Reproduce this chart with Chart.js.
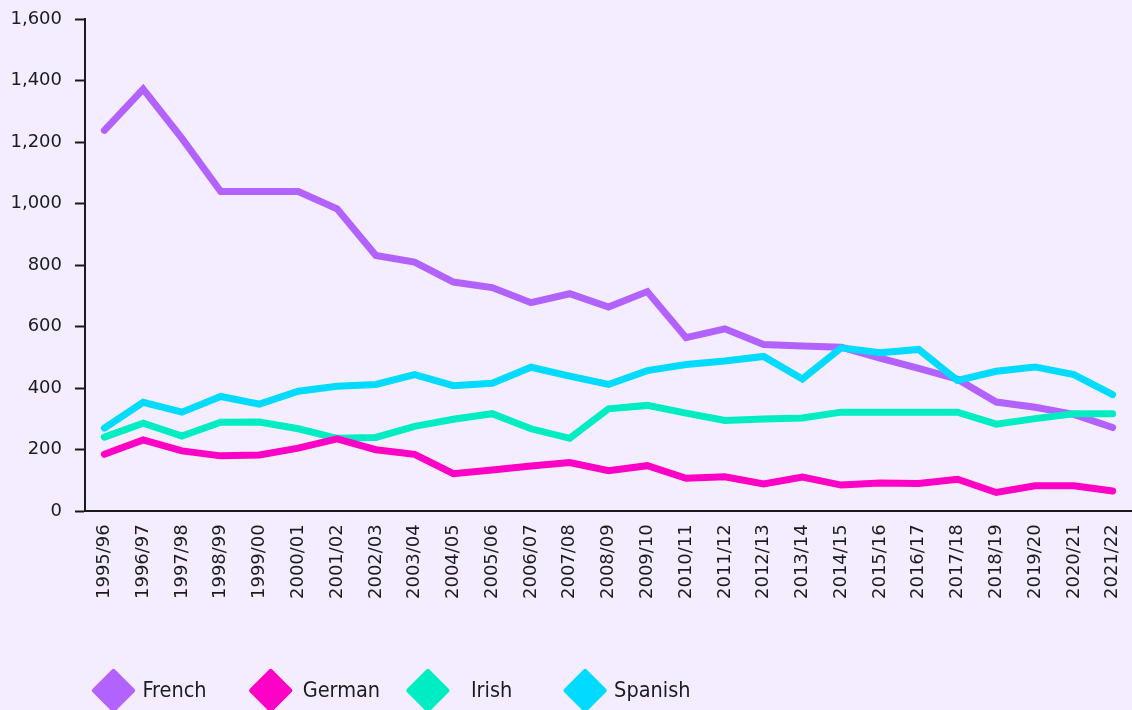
<!DOCTYPE html>
<html>
<head>
<meta charset="utf-8">
<script src="https://cdn.jsdelivr.net/npm/chart.js@4/dist/chart.umd.min.js"></script>
<style>
  html, body { margin: 0; padding: 0; background: #F3EDFF; }
  #wrap { width: 1132px; height: 710px; position: relative; }
</style>
</head>
<body>
<div id="wrap"><canvas id="chart"></canvas></div>
<script>
// Academic years on the x axis
const years = ['1995/96', '1996/97', '1997/98', '1998/99', '1999/00', '2000/01', '2001/02',
    '2002/03', '2003/04', '2004/05', '2005/06', '2006/07', '2007/08', '2008/09', '2009/10',
    '2010/11', '2011/12', '2012/13', '2013/14', '2014/15', '2015/16', '2016/17', '2017/18',
    '2018/19', '2019/20', '2020/21', '2021/22'];

// Values
const french = [1238, 1372, 1212, 1039, 1039, 1039, 983, 831, 810, 745, 727, 678, 707, 664, 714,
    564, 593, 542, 537, 533, 498, 464, 429, 355, 338, 315, 272];
const german = [185, 232, 196, 180, 183, 205, 235, 200, 185, 122, 134, 147, 158, 132, 148,
    107, 112, 89, 111, 85, 92, 90, 104, 61, 83, 83, 66];
const irish = [241, 286, 244, 289, 290, 268, 237, 240, 276, 299, 317, 268, 237, 333, 344,
    319, 295, 300, 303, 322, 322, 322, 322, 283, 301, 317, 317];
const spanish = [270, 354, 322, 373, 348, 390, 406, 412, 444, 408, 416, 468, 439, 412, 457,
    477, 488, 503, 430, 531, 515, 526, 425, 455, 469, 444, 379];

const yTicks = [0, 200, 400, 600, 800, 1000, 1200, 1400, 1600];

const seriesNames = ['French', 'German', 'Irish', 'Spanish'];
const seriesColors = ['#B262FF', '#FF00C6', '#00EDC3', '#00DBFF'];

const textColor = '#1c1c1c';

// paint the lavender background behind everything
const backgroundPlugin = {
    id: 'background',
    beforeDraw(chart) {
        const ctx = chart.ctx;
        ctx.save();
        ctx.fillStyle = '#F3EDFF';
        ctx.fillRect(0, 0, chart.width, chart.height);
        ctx.restore();
    }
};

// legend with rounded diamonds along the bottom
const legendTextGap = [29, 32, 43, 29];
const diamondLegend = {
    id: 'diamondLegend',
    afterDraw(chart) {
        const ctx = chart.ctx;
        ctx.save();
        chart.data.datasets.forEach((ds, i) => {
            const cx = 113.5 + i * 157.2;
            const cy = 690.5;
            const h = 19;
            ctx.beginPath();
            ctx.moveTo(cx, cy - h);
            ctx.lineTo(cx + h, cy);
            ctx.lineTo(cx, cy + h);
            ctx.lineTo(cx - h, cy);
            ctx.closePath();
            ctx.fillStyle = ds.borderColor;
            ctx.strokeStyle = ds.borderColor;
            ctx.lineWidth = 5;
            ctx.lineJoin = 'round';
            ctx.fill();
            ctx.stroke();

            ctx.fillStyle = textColor;
            ctx.font = '21.5px "DejaVu Sans Condensed", "DejaVu Sans", sans-serif';
            ctx.textBaseline = 'alphabetic';
            ctx.textAlign = 'left';
            ctx.fillText(ds.label, cx + legendTextGap[i], 697);
        });
        ctx.restore();
    }
};

const allSeries = [french, german, irish, spanish];
const drawOrder = [3, 1, 2, 0];

const datasets = allSeries.map((values, i) => ({
    label: seriesNames[i],
    data: values,
    borderColor: seriesColors[i],
    backgroundColor: seriesColors[i],
    borderWidth: 7,
    borderCapStyle: 'round',
    pointRadius: 0,
    pointHoverRadius: 0,
    tension: 0,
    order: drawOrder[i]
}));

new Chart(document.getElementById('chart'), {
    type: 'line',
    data: { labels: years, datasets: datasets },
    options: {
        responsive: true,
        maintainAspectRatio: false,
        animation: false,
        layout: { padding: { left: 11, right: 0, top: 19, bottom: 98 } },
        plugins: {
            legend: { display: false },
            tooltip: { enabled: false }
        },
        scales: {
            x: {
                offset: true,
                afterFit(scale) {
                    scale.paddingLeft = 0;
                    scale.paddingRight = 0;
                },
                grid: { display: false, drawTicks: false },
                border: { display: true, color: '#1a1a1a', width: 2 },
                ticks: {
                    autoSkip: false,
                    minRotation: 90,
                    maxRotation: 90,
                    padding: 13,
                    color: textColor,
                    font: { family: 'DejaVu Sans', size: 18 }
                }
            },
            y: {
                min: 0,
                max: 1600,
                afterBuildTicks(scale) {
                    scale.ticks = yTicks.map(v => ({ value: v }));
                },
                afterFit(scale) {
                    scale.width = 74;
                    scale.paddingTop = 0;
                    scale.paddingBottom = 0;
                },
                grid: {
                    drawOnChartArea: false,
                    drawTicks: true,
                    tickLength: 10,
                    tickWidth: 2,
                    tickColor: '#1a1a1a'
                },
                border: { display: true, color: '#1a1a1a', width: 2 },
                ticks: {
                    padding: 13,
                    color: textColor,
                    font: { family: 'DejaVu Sans', size: 18 },
                    callback: v => Number(v).toLocaleString('en-US')
                }
            }
        }
    },
    plugins: [backgroundPlugin, diamondLegend]
});
</script>
</body>
</html>
